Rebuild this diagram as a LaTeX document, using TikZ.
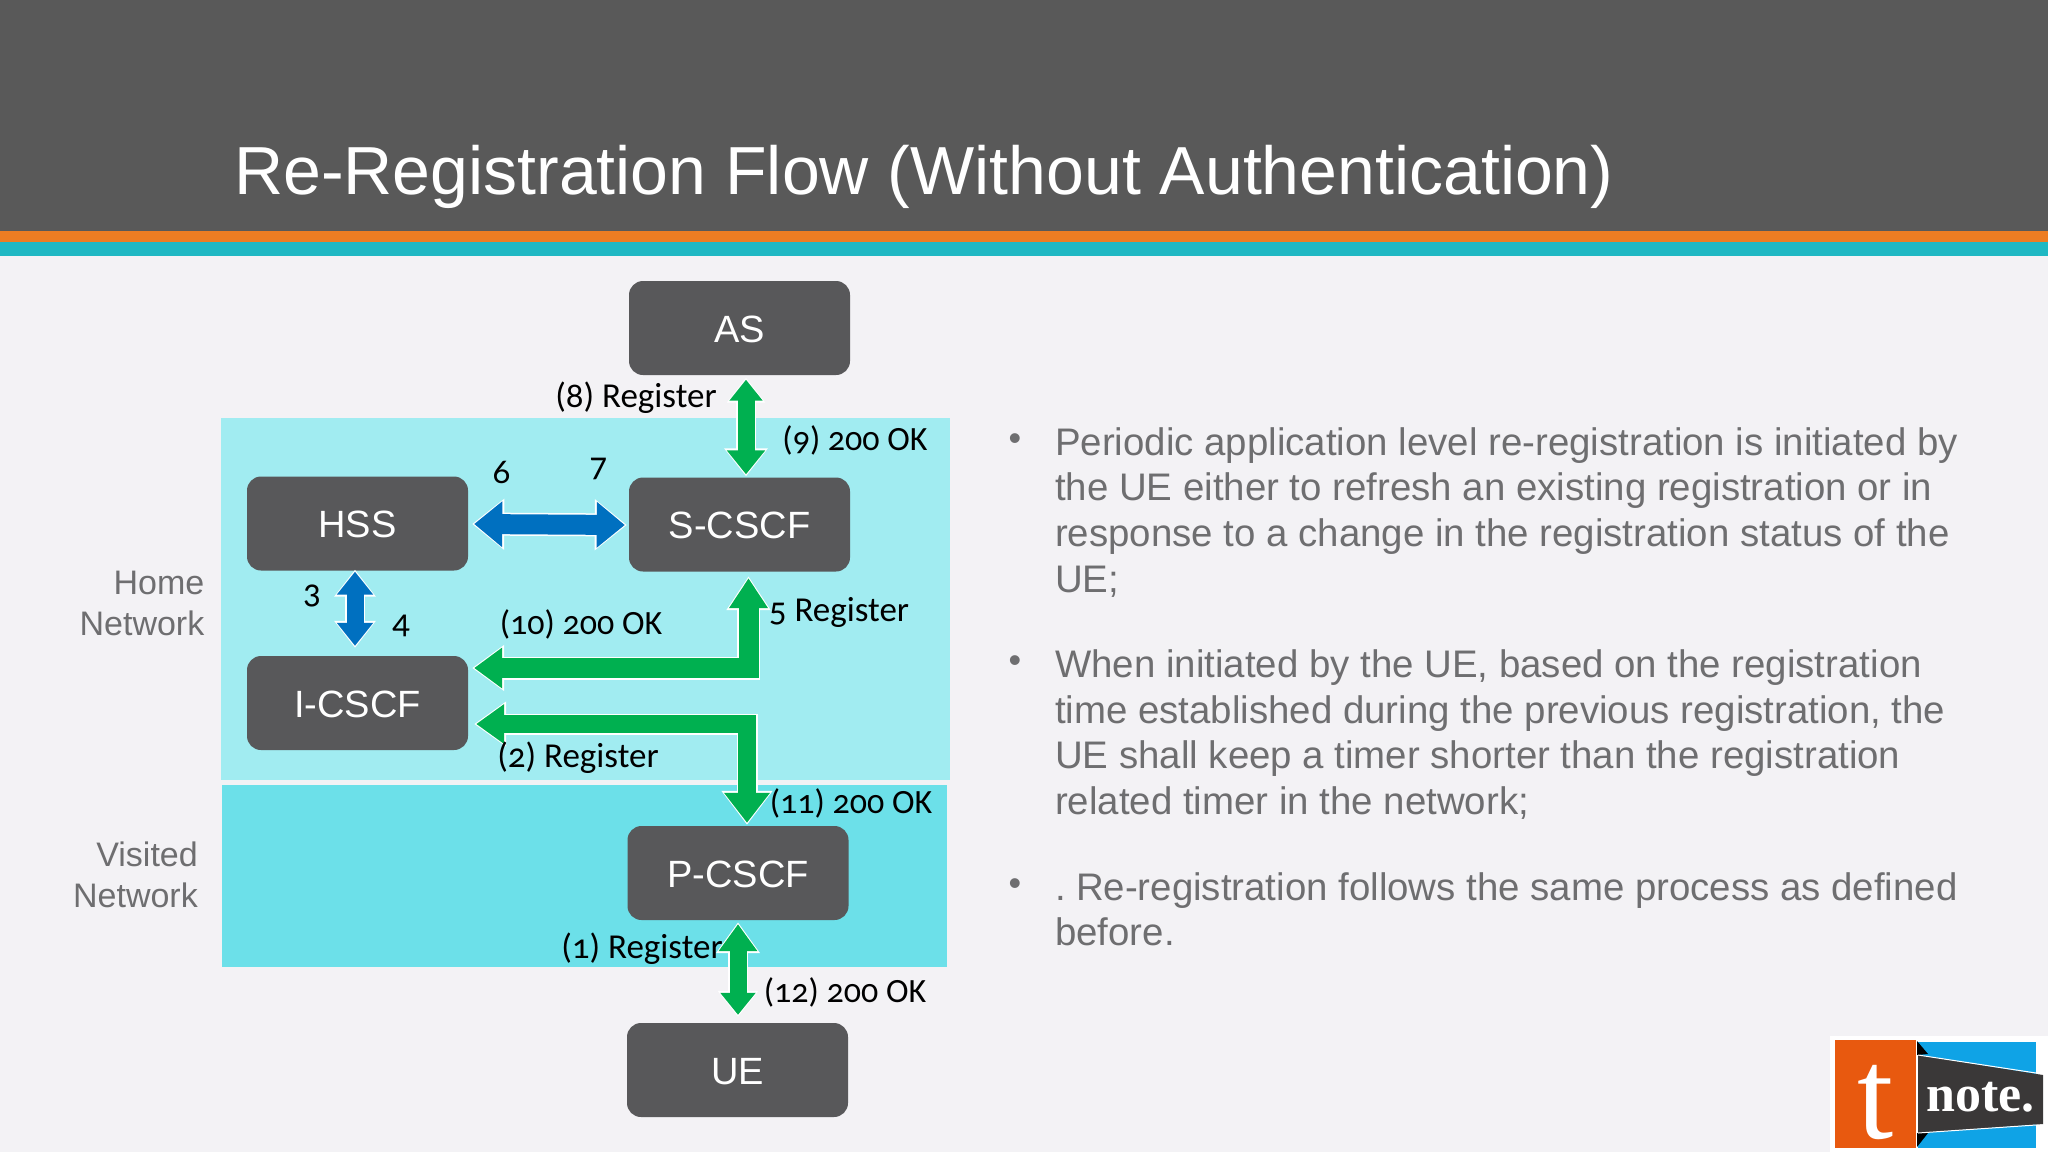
\documentclass[tikz,border=0pt]{standalone}
\usepackage{fontspec}
\setmainfont{Liberation Sans}
\newfontfamily\labfont[Numbers=OldStyle]{Carlito}
\newfontfamily\logofont{Liberation Serif}
\usetikzlibrary{arrows.meta}
\definecolor{pagebg}{HTML}{F3F2F5}
\definecolor{headgray}{HTML}{595959}
\definecolor{barorange}{HTML}{ED7D23}
\definecolor{barteal}{HTML}{1FB8C3}
\definecolor{homecol}{HTML}{A1ECF1}
\definecolor{visitcol}{HTML}{6CE0E9}
\definecolor{boxgray}{HTML}{58585A}
\definecolor{textgray}{HTML}{6E6E70}
\definecolor{arrgreen}{HTML}{00B050}
\definecolor{arrblue}{HTML}{0070C0}
\definecolor{logoorange}{HTML}{E8590F}
\definecolor{logoblue}{HTML}{0FA3E6}
\definecolor{logodark}{HTML}{3A3838}
\newcommand{\boxlabel}[1]{\raisebox{-1.3pt}[\height][\depth]{#1}}
\tikzset{
  netbox/.style={fill=boxgray,rounded corners=14pt,minimum width=221pt,minimum height=94pt,inner sep=0pt,text=white,font=\fontsize{38}{46}\selectfont},
  lab/.style={inner sep=0pt,text=black,font=\labfont\fontsize{35}{40}\selectfont},
  oklab/.style={inner sep=0pt,text=black,font=\labfont\fontsize{34}{40}\selectfont},
  side/.style={inner sep=0pt,anchor=east,align=right,text=textgray,font=\fontsize{34}{41}\selectfont},
  para/.style={inner sep=0pt,anchor=north west,align=left,text=textgray,font=\fontsize{38.4}{45.7}\selectfont},
  bul/.style={inner sep=0pt,text=textgray,font=\fontsize{36}{40}\selectfont},
  ba/.style n args={5}{line width=#1pt,
    preaction={draw=white,line width=#1pt+3pt,shorten <=-2pt,shorten >=-2pt,
      arrows={Triangle[width=#2pt+5pt,length=#3pt+4pt]-Triangle[width=#4pt+5pt,length=#5pt+4pt]}},
    arrows={Triangle[width=#2pt,length=#3pt]-Triangle[width=#4pt,length=#5pt]}},
}
\begin{document}
\begin{tikzpicture}[x=1pt,y=-1pt]
\useasboundingbox (0,0) rectangle (2048,1152);
% slide background
\fill[pagebg] (0,0) rectangle (2048,1152);
\fill[headgray] (0,0) rectangle (2048,231);
\fill[barorange] (0,231) rectangle (2048,242);
\fill[barteal] (0,242) rectangle (2048,256);
\node[inner sep=0pt,anchor=base west,text=white,font=\fontsize{68}{80}\selectfont] (title) at (234,194) {Re-Registration Flow (Without Authentication)};
% network panels
\fill[homecol] (221,418) rectangle (950,780);
\fill[visitcol] (222,785) rectangle (947,967);
\node[side] (home) at (204.5,603) {Home\\Network};
\node[side] (visited) at (198,875) {Visited\\Network};
% boxes
\node[netbox] (as) at (739.5,328) {\boxlabel{AS}};
\node[netbox] (hss) at (357.5,523.5) {\boxlabel{HSS}};
\node[netbox] (scscf) at (739.5,524.5) {\boxlabel{S-CSCF}};
\node[netbox] (icscf) at (357.5,703) {\boxlabel{I-CSCF}};
\node[netbox] (pcscf) at (738,873) {\boxlabel{P-CSCF}};
\node[netbox] (ue) at (737.5,1070) {\boxlabel{UE}};
% connectors
\draw[draw=arrgreen,ba={17}{32}{21}{37}{24}] ([shift={(6.5,4.5)}]as.south) -- ([shift={(6.5,-3)}]scscf.north);
\draw[draw=arrblue,ba={20}{44}{28}{44}{28}] ([shift={(6,0.5)}]hss.east) -- ([shift={(-4,0.5)}]scscf.west);
\draw[draw=arrblue,ba={17}{35}{23}{35}{23}] ([shift={(-2.5,1)}]hss.south) -- ([shift={(-2.5,-10)}]icscf.north);
\draw[draw=arrgreen,ba={20}{39}{28}{37}{30}] ([shift={(6,-35)}]icscf.east) -| ([shift={(9,6.5)}]scscf.south);
\draw[draw=arrgreen,ba={18}{38}{28}{44}{30}] ([shift={(8,21)}]icscf.east) -| ([shift={(9,-3)}]pcscf.north);
\draw[draw=arrgreen,ba={17}{37}{27}{34}{22}] ([shift={(0,4)}]pcscf.south) -- ([shift={(0.5,-8)}]ue.north);
% labels
\node[lab] (l8) at (636,398) {(8) Register};
\node[oklab] (l9) at (855,440) {(9) 200 OK};
\node[lab] (l6) at (501.5,472) {6};
\node[lab] (l7) at (598.5,469) {7};
\node[lab] (l3) at (312,596) {3};
\node[lab] (l4) at (401,626) {4};
\node[oklab] (l10) at (581,624) {(10) 200 OK};
\node[lab] (l5) at (839,612) {5 Register};
\node[lab] (l2) at (578,758) {(2) Register};
\node[oklab] (l11) at (851,803) {(11) 200 OK};
\node[lab] (l1) at (642,949) {(1) Register};
\node[oklab] (l12) at (845,992) {(12) 200 OK};
% bullet text
\node[bul] (b1) at (1015,442) {•};
\node[bul] (b2) at (1015,664) {•};
\node[bul] (b3) at (1015,887) {•};
\node[para] (p1) at (1055,427) {Periodic application level re-registration is initiated by\\the UE either to refresh an existing registration or in\\response to a change in the registration status of the\\UE;};
\node[para] (p2) at (1055,649.5) {When initiated by the UE, based on the registration\\time established during the previous registration, the\\UE shall keep a timer shorter than the registration\\related timer in the network;};
\node[para] (p3) at (1055,872) {.\hspace{-4pt} Re-registration follows the same process as defined\\before.};
% logo
\fill[white] (1830,1036) rectangle (2048,1152);
\fill[logoorange] (1835,1040) rectangle (1916,1148);
\fill[logoblue] (1918,1042) rectangle (2036,1148);
\fill[black] (1917,1041) -- (1928,1054) -- (1917,1055) -- cycle;
\fill[black] (1917,1147) -- (1928,1133) -- (1917,1133) -- cycle;
\fill[logodark] (1918,1055) -- (2043,1075) -- (2043,1124) -- (1918,1133) -- cycle;
\draw[white,line width=1pt] (1918,1055) -- (2036,1073);
\draw[white,line width=1pt] (1918,1133) -- (2036,1125);
\node[inner sep=0pt,anchor=base,text=white,font=\logofont\fontsize{130}{130}\selectfont] (logot) at (1876,1138) {t};
\node[inner sep=0pt,anchor=base west,text=white,font=\logofont\bfseries\fontsize{52}{52}\selectfont] (logon) at (1926,1111) {note.};
\end{tikzpicture}
\end{document}
